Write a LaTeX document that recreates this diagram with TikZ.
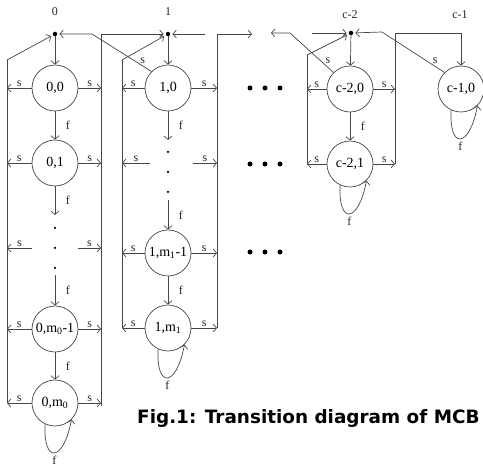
\documentclass[tikz,border=0pt]{standalone}
\usepackage{fontspec}
\setmainfont{Liberation Serif}
\newfontfamily\capfont{DejaVu Sans}
\usetikzlibrary{arrows.meta, calc}
\definecolor{lineg}{RGB}{70,70,70}

\tikzset{
  state/.style={circle, draw=lineg, line width=0.7pt, minimum size=46pt, inner sep=0pt,
    font=\fontsize{14}{14}\selectfont},
  edge/.style={draw=lineg, line width=0.7pt},
  lbl/.style={font=\fontsize{12}{12}\selectfont, inner sep=1.5pt, text=black!85},
  hub/.style={circle, fill=black, inner sep=0pt, minimum size=4.5pt},
  vdot/.style={circle, fill=black, inner sep=0pt, minimum size=2.5pt},
  hdot/.style={circle, fill=black, inner sep=0pt, minimum size=5pt},
  selfloop/.style={edge, ->},
}

\begin{document}
\begin{tikzpicture}[x=1pt, y=-1pt, >={Straight Barb[length=3.5pt,width=8pt]}]
    \useasboundingbox (0,0) rectangle (483,468);

    % Column labels
    \node[lbl] (t0) at (55,12) {0};
    \node[lbl] (t1) at (168,12) {1};
    \node[lbl] (tc) at (350,15) {c-2};
    \node[lbl] (td) at (460,15) {c-1};

    % Hubs
    \node[hub] (h0) at (55,34) {};
    \node[hub] (h1) at (168,34) {};
    \node[hub] (hc) at (351,33) {};

    % States
    \node[state] (n00) at (55,88) {0,0};
    \node[state] (n01) at (55,163) {0,1};
    \node[state] (n0a) at (55,329) {0,m\textsubscript{0}-1};
    \node[state] (n0b) at (55,403) {0,m\textsubscript{0}};
    \node[state] (n10) at (168,88) {1,0};
    \node[state] (n1a) at (168,253) {1,m\textsubscript{1}-1};
    \node[state] (n1b) at (168,328) {1,m\textsubscript{1}};
    \node[state] (nc0) at (350,89) {c-2,0};
    \node[state] (nc1) at (350,164) {c-2,1};
    \node[state] (nd0) at (461,89) {c-1,0};

    % Vertical dots
    \foreach \y [count=\i] in {228,248,268}
        \node[vdot] (v0\i) at (55,\y) {};
    \foreach \y [count=\i] in {152,172,192}
        \node[vdot] (v1\i) at (168,\y) {};

    % Horizontal dots
    \foreach \y in {88,164,252}
        \foreach \x in {250,265,280}
            \node[hdot] at (\x,\y) {};

    % Corner points of the bus lines
    \coordinate (l0t) at (7,60);    \coordinate (l0b) at (7,403);
    \coordinate (r0t) at (101,34);  \coordinate (r0b) at (101,406);
    \coordinate (l1t) at (122,60);  \coordinate (l1b) at (122,328);
    \coordinate (r1t) at (217,34);  \coordinate (r1b) at (217,328);
    \coordinate (lct) at (307,55);  \coordinate (lcb) at (307,164);
    \coordinate (rct) at (395,33);  \coordinate (rcb) at (395,164);
    \coordinate (k1) at (92,34);
    \coordinate (k2) at (290,33);
    \coordinate (k5) at (382,32);
    \coordinate (s1) at (252,34);
    \coordinate (s1b) at (205,34);
    \coordinate (s2) at (271,33);
    \coordinate (s3) at (312,33);
    \coordinate (a0) at (55,215);   \coordinate (b0) at (55,275);
    \coordinate (a1) at (168,140);  \coordinate (b1) at (168,200);

    % Bus lines
    \draw[edge] (l0b) -- (l0t);
    \draw[edge, ->, shorten >=2pt] (l0t) -- (h0);
    \draw[edge, ->, shorten >=2pt] (r0b) -- (r0t) -- (h1);
    \draw[edge] (l1b) -- (l1t);
    \draw[edge, ->, shorten >=2pt] (l1t) -- (h1);
    \draw[edge, ->] (r1b) -- (r1t) -- (s1);
    \draw[edge, ->, shorten >=2pt] (s1b) -- (h1);
    \draw[edge] (lcb) -- (lct);
    \draw[edge, ->, shorten >=2pt] (lct) -- (hc);
    \draw[edge, ->, shorten >=2pt] (s3) -- (hc);
    \draw[edge, ->] (rcb) -- (rct) -- (rct -| nd0) -- (nd0.north);

    % Returns to the previous hub
    \draw[edge, ->, shorten >=2pt] (n10.135) -- node[pos=0.2, above right=-1pt, lbl] {s} (k1) -- (h0);
    \draw[edge, ->] (nc0.135) -- node[pos=0.2, above right=-1pt, lbl] {s} (k2) -- (s2);
    \draw[edge, ->, shorten >=2pt] (nd0.135) -- node[pos=0.2, above right=-1pt, lbl] {s} (k5) -- (hc);

    % Hub to first state
    \draw[edge, ->] (h0) -- (n00);
    \draw[edge, ->] (h1) -- (n10);
    \draw[edge, ->] (hc) -- (nc0);

    % s transitions to the buses
    \foreach \n in {n00,n01,n0a,n0b} {
        \draw[edge, ->] (\n.west) -- (\n.west -| l0t) node[midway, above, lbl] {s};
        \draw[edge, ->] (\n.east) -- (\n.east -| r0t) node[midway, above, lbl] {s};
    }
    \foreach \n in {n10,n1a,n1b} {
        \draw[edge, ->] (\n.west) -- (\n.west -| l1t) node[midway, above, lbl] {s};
        \draw[edge, ->] (\n.east) -- (\n.east -| r1t) node[midway, above, lbl] {s};
    }
    \foreach \n in {nc0,nc1} {
        \draw[edge, ->] (\n.west) -- (\n.west -| lct) node[midway, above, lbl] {s};
        \draw[edge, ->] (\n.east) -- (\n.east -| rct) node[midway, above, lbl] {s};
    }
    \draw[edge, ->] ($(v02)+(-23,0)$) -- (v02 -| l0t) node[midway, above, lbl] {s};
    \draw[edge, ->] ($(v02)+(23,0)$) -- (v02 -| r0t) node[midway, above, lbl] {s};
    \draw[edge, ->] ($(v11)+(-18,11)$) -- ($(v11 -| l1t)+(0,11)$) node[midway, above, lbl] {s};
    \draw[edge, ->] ($(v11)+(25,11)$) -- ($(v11 -| r1t)+(0,11)$) node[midway, above, lbl] {s};

    % f transitions
    \draw[edge, ->] (n00) -- (n01) node[midway, right=9pt, lbl] {f};
    \draw[edge, ->] (n01) -- (a0) node[midway, right=9pt, lbl] {f};
    \draw[edge, ->] (b0) -- (n0a) node[midway, right=9pt, lbl] {f};
    \draw[edge, ->] (n0a) -- (n0b) node[midway, right=9pt, lbl] {f};
    \draw[edge, ->] (n10) -- (a1) node[midway, right=9pt, lbl] {f};
    \draw[edge, ->] (b1) -- (n1a) node[midway, right=9pt, lbl] {f};
    \draw[edge, ->] (n1a) -- (n1b) node[midway, right=9pt, lbl] {f};
    \draw[edge, ->] (nc0) -- (nc1) node[midway, right=9pt, lbl] {f};

    % Self-loops
    \foreach \n in {n0b,n1b,nc1,nd0}
        \draw[selfloop] (\n.-115) .. controls +(-2.3,39) and +(-8.3,43.7) .. (\n.-45)
            node[pos=0.5, below=1pt, lbl] {f};

    % Caption
    \node[font=\capfont\bfseries\fontsize{18.4}{20}\selectfont, anchor=base west, inner sep=0pt]
        (cap) at (137,424) {Fig.1: Transition diagram of MCB};
\end{tikzpicture}
\end{document}
